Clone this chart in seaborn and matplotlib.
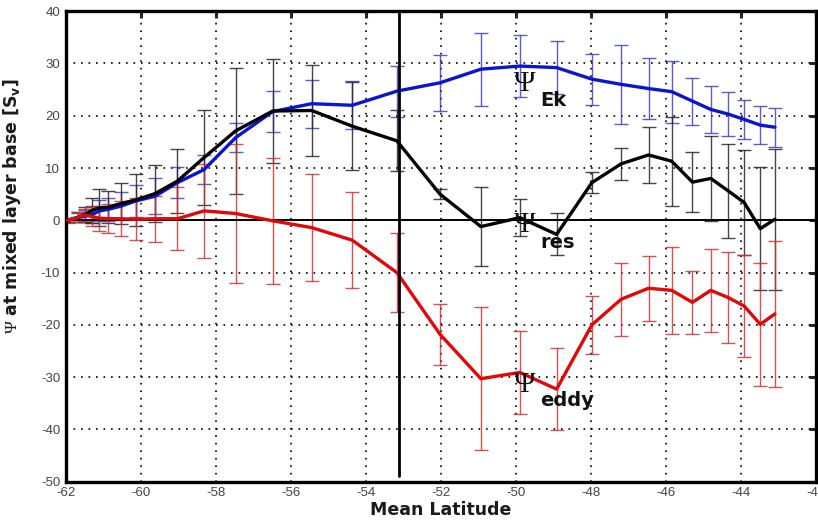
import matplotlib
matplotlib.use("Agg")
import matplotlib.pyplot as plt
import seaborn as sns
import pandas as pd

# Mean latitude of each section bin
lat = [-61.95, -61.66, -61.49, -61.29, -61.10, -60.86, -60.53, -60.13, -59.62, -59.02,
       -58.31, -57.47, -56.48, -55.44, -54.36, -53.17, -52.02, -50.93, -49.89, -48.91,
       -47.97, -47.19, -46.46, -45.84, -45.29, -44.80, -44.33, -43.91, -43.48, -43.09]

# Overturning streamfunction at the mixed-layer base [Sv] and its spread
psi_ek = [0.0, 0.5, 0.8, 1.1, 1.8, 2.1, 2.7, 3.7, 4.6, 7.2,
          9.7, 15.8, 20.8, 22.3, 22.0, 24.7, 26.3, 28.9, 29.5, 29.2,
          27.0, 26.0, 25.2, 24.6, 22.8, 21.2, 20.3, 19.3, 18.2, 17.8]
err_ek = [0.3, 0.8, 1.2, 1.6, 2.0, 2.2, 2.7, 3.0, 3.4, 2.9,
          2.8, 2.8, 3.9, 4.6, 4.6, 4.9, 5.4, 7.0, 6.0, 5.1,
          4.9, 7.6, 5.8, 5.9, 4.5, 4.5, 4.2, 3.8, 3.7, 3.7]

psi_res = [0.0, 0.6, 1.1, 1.9, 2.4, 2.5, 3.2, 3.9, 5.1, 7.5,
           12.0, 17.1, 20.9, 21.0, 18.0, 15.2, 5.0, -1.2, 0.5, -2.7,
           7.2, 10.8, 12.5, 11.3, 7.3, 8.0, 5.6, 3.4, -1.6, 0.2]
err_res = [0.3, 1.0, 1.5, 2.4, 3.5, 3.1, 4.0, 4.9, 5.4, 6.2,
           9.0, 12.0, 10.0, 8.7, 8.4, 5.8, 1.0, 7.5, 3.5, 4.0,
           2.0, 3.0, 5.4, 8.5, 5.8, 8.2, 8.9, 10.0, 11.8, 13.5]

psi_eddy = [0.0, 0.6, 1.0, 0.7, 0.4, 0.3, 0.3, 0.2, 0.3, 0.3,
            1.8, 1.3, -0.1, -1.4, -3.8, -10.0, -21.8, -30.3, -29.1, -32.3,
            -20.0, -15.1, -13.0, -13.4, -15.7, -13.4, -14.8, -16.4, -19.9, -17.9]
err_eddy = [0.5, 1.0, 1.2, 1.8, 2.4, 2.8, 3.3, 4.0, 4.4, 6.0,
            9.0, 13.3, 12.0, 10.3, 9.2, 7.5, 5.8, 13.7, 8.0, 7.8,
            5.6, 7.0, 6.2, 8.3, 6.0, 7.9, 8.7, 9.8, 11.8, 14.0]

x_ticks = [-62, -60, -58, -56, -54, -52, -50, -48, -46, -44, -42]
y_ticks = [-50, -40, -30, -20, -10, 0, 10, 20, 30, 40]

# Position of the front marker and its lower end
front_lat = -53.1
front_bottom = -49.0

sns.set_theme(style="white")
plt.rcParams["font.family"] = ["Liberation Sans", "DejaVu Sans"]
plt.rcParams["mathtext.fontset"] = "custom"
plt.rcParams["mathtext.rm"] = "Liberation Serif"
plt.rcParams["mathtext.sf"] = "DejaVu Sans:bold"

fig = plt.figure(figsize=(8.18, 5.24), dpi=100)
ax = fig.add_axes([0.0803, 0.0807, 0.917, 0.898])

series = [
    ("Ek", psi_ek, err_ek, "#0a14d2", "#4040bc"),
    ("res", psi_res, err_res, "#000000", "#262626"),
    ("eddy", psi_eddy, err_eddy, "#e00808", "#cc3434"),
]

for name, vals, errs, line_col, bar_col in series:
    ax.errorbar(lat, vals, yerr=errs, fmt="none", ecolor=bar_col, elinewidth=1.0,
                capsize=5, capthick=1.0, alpha=0.85, zorder=2)

ax.axhline(0, color="black", lw=1.4, zorder=3)

for name, vals, errs, line_col, bar_col in series:
    df = pd.DataFrame({"lat": lat, "psi": vals})
    sns.lineplot(data=df, x="lat", y="psi", ax=ax, color=line_col, lw=2.4,
                 zorder=4, estimator=None, sort=False)

ax.plot([front_lat, front_lat], [front_bottom, 40], color="black", lw=2.0, zorder=5)

ax.set_xlim(-62, -42)
ax.set_ylim(-50, 40)
ax.set_xticks(x_ticks)
ax.set_yticks(y_ticks)
ax.set_xticklabels([str(t) for t in x_ticks])
ax.set_yticklabels([str(t) for t in y_ticks])

ax.grid(True, color="black", linestyle=(0, (1, 3.5)), linewidth=1.2)
ax.set_axisbelow(True)
for s in ax.spines.values():
    s.set_visible(True)
    s.set_color("black")
    s.set_linewidth(2.4)
ax.tick_params(axis="both", which="both", direction="in", length=5, width=2.2,
               top=True, right=True, labelsize=9.5, labelcolor="#444444", pad=4)

ax.set_xlabel("Mean Latitude", fontsize=12.5, fontweight="bold", color="#1a1a1a",
              family="DejaVu Sans", labelpad=1)
ax.set_ylabel(r"$\mathrm{\Psi}$ at mixed layer base [S$_{\mathsf{v}}$]",
              fontsize=12.5, fontweight="bold", color="#1a1a1a", family="DejaVu Sans")
ax.yaxis.set_label_coords(-0.057, 0.585)

# Curve labels
labels = [("Ek", -50.05, 26.1, -49.35, 22.9),
          ("res", -50.05, -0.9, -49.35, -4.2),
          ("eddy", -50.05, -31.5, -49.35, -34.5)]
for txt, px, py, sx, sy in labels:
    ax.text(px, py, "Ψ", fontsize=21, family="Liberation Serif", color="#111111",
            ha="left", va="center", zorder=6)
    ax.text(sx, sy, txt, fontsize=14, fontweight="bold", color="#111111",
            family="DejaVu Sans", ha="left", va="center", zorder=6)

fig.savefig("out.png", dpi=100)
